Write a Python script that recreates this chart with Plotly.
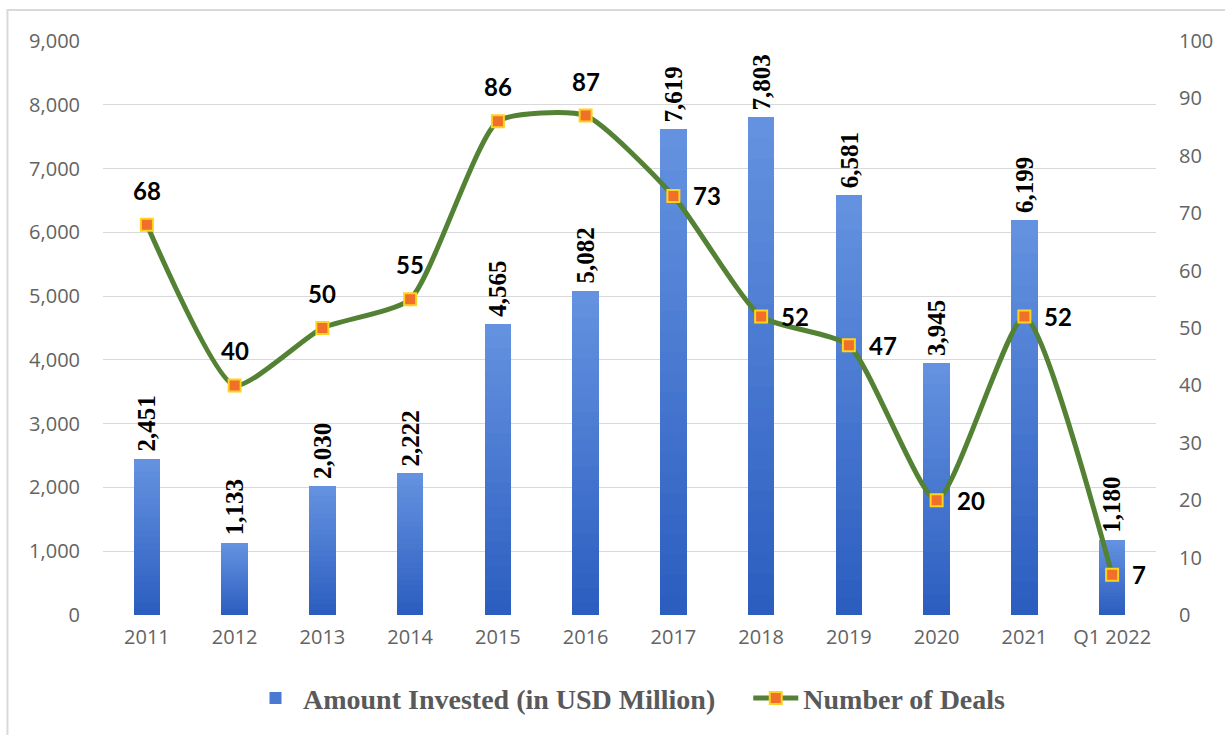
import plotly.graph_objects as go

categories = ["2011", "2012", "2013", "2014", "2015", "2016", "2017", "2018", "2019", "2020", "2021", "Q1 2022"]
amount_invested = [2451, 1133, 2030, 2222, 4565, 5082, 7619, 7803, 6581, 3945, 6199, 1180]
number_of_deals = [68, 40, 50, 55, 86, 87, 73, 52, 47, 20, 52, 7]
deal_label_side = ["top", "top", "top", "top", "top", "top", "right", "right", "right", "right", "right", "right"]

left_ticks = list(range(0, 9001, 1000))
right_ticks = list(range(0, 101, 10))

fig = go.Figure()

# gradient bars built from stacked slices of each bar's own value
N = 24
top_rgb = (100, 146, 224)
bot_rgb = (44, 94, 192)
for k in range(N):
    t = k / (N - 1)
    r = round(bot_rgb[0] + (top_rgb[0] - bot_rgb[0]) * t)
    g = round(bot_rgb[1] + (top_rgb[1] - bot_rgb[1]) * t)
    b = round(bot_rgb[2] + (top_rgb[2] - bot_rgb[2]) * t)
    fig.add_trace(go.Bar(
        x=categories, y=[v / N for v in amount_invested],
        marker=dict(color=f"rgb({r},{g},{b})", line=dict(width=0)),
        name="Amount Invested (in USD Million)\u00a0\u00a0\u00a0\u00a0",
        legendgroup="amt",
        showlegend=(k == N // 2),
        hoverinfo="skip",
    ))

fig.add_trace(go.Scatter(
    x=categories, y=number_of_deals, yaxis="y2",
    mode="lines+markers",
    line=dict(color="#548235", width=5, shape="spline", smoothing=0.55),
    marker=dict(symbol="square", size=12, color="#F0702A", line=dict(color="#FFD21F", width=2)),
    name="Number of Deals",
))

annotations = []
for i, v in enumerate(amount_invested):
    annotations.append(dict(
        x=i, y=v, xref="x", yref="y", text=f"<b>{v:,}</b>", textangle=-90,
        showarrow=False, yanchor="bottom", xanchor="center", yshift=5,
        font=dict(family="Liberation Serif", size=25, color="#000000"),
    ))
for i, (v, side) in enumerate(zip(number_of_deals, deal_label_side)):
    a = dict(x=i, y=v, xref="x", yref="y2", text=f"<b>{v}</b>", showarrow=False,
             font=dict(family="Lato", size=24, color="#000000"))
    if side == "top":
        a.update(yanchor="bottom", xanchor="center", yshift=18)
    else:
        a.update(xanchor="left", yanchor="middle", xshift=18)
    annotations.append(a)

fig.update_layout(
    width=1225, height=735,
    margin=dict(l=103, r=64, t=41, b=118),
    paper_bgcolor="white", plot_bgcolor="white",
    barmode="stack", bargap=0.70,
    annotations=annotations,
    showlegend=True,
    legend=dict(orientation="h", x=0.5, xanchor="center", y=-0.145, yanchor="middle",
                font=dict(family="Liberation Serif", size=28, color="#595959", weight="bold"),
                itemwidth=45, traceorder="normal"),
    xaxis=dict(type="category", categoryorder="array", categoryarray=categories,
               range=[-0.5, len(categories) - 0.5], showgrid=False, showline=False,
               ticks="", ticklabelstandoff=8,
               tickfont=dict(family="Open Sans", size=20, color="#636363")),
    yaxis=dict(range=[0, 9000], tickvals=left_ticks, tickformat=",", showgrid=True,
               gridcolor="#D9D9D9", gridwidth=1, zeroline=False, showline=False, ticks="",
               ticklabelstandoff=22,
               tickfont=dict(family="Open Sans", size=20, color="#636363")),
    yaxis2=dict(range=[0, 100], tickvals=right_ticks, overlaying="y", side="right",
                showgrid=False, zeroline=False, showline=False, ticks="",
                ticklabelstandoff=22,
                tickfont=dict(family="Open Sans", size=20, color="#636363")),
    shapes=[dict(type="rect", xref="paper", yref="paper",
                 x0=(7 - 103) / 1058, x1=(1240 - 103) / 1058,
                 y0=(617 - 750) / 576, y1=(617 - 10) / 576,
                 line=dict(color="#D9D9D9", width=2), layer="below")],
)

fig.write_html("out.html")
